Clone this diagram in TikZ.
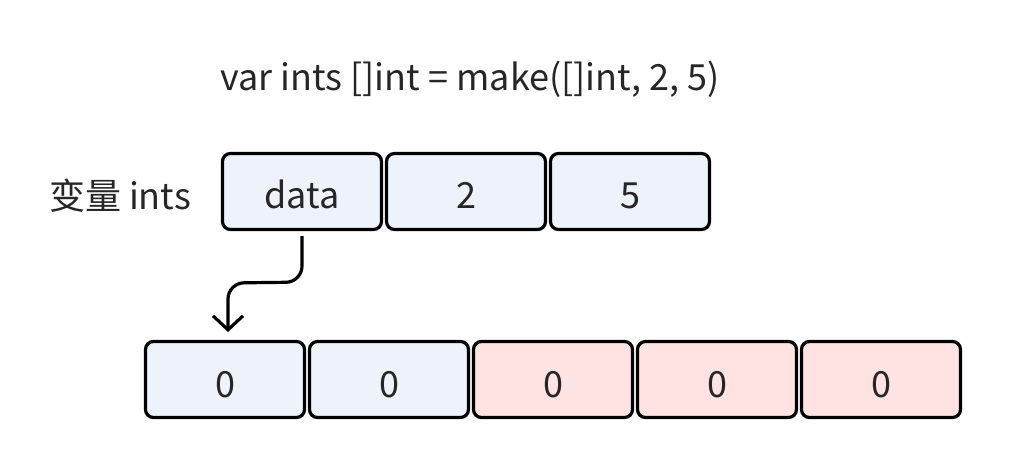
\documentclass[tikz,border=0pt]{standalone}
\usepackage{fontspec}
\setmainfont{Noto Sans CJK SC}
\usetikzlibrary{arrows.meta}
\definecolor{cellblue}{HTML}{EEF2FB}
\definecolor{cellred}{HTML}{FFE2E2}
\definecolor{txt}{HTML}{262626}
\newcommand{\celltext}[1]{\raisebox{-17.5pt}[0pt][0pt]{#1}}
\begin{document}
\begin{tikzpicture}[x=1pt,y=-1pt,
  cell/.style={draw=black,line width=3.2pt,rounded corners=8pt,minimum width=159pt,minimum height=76pt,inner sep=0pt,text=txt,font=\fontsize{36}{40}\selectfont},
  bluecell/.style={cell,fill=cellblue},
  redcell/.style={cell,fill=cellred},
  lbl/.style={text=txt,font=\fontsize{36}{40}\selectfont,inner sep=0pt}]
\useasboundingbox (0,0) rectangle (1012,470);
\node[lbl] (code) at (470,79) {var ints []int = make([]int, 2, 5)};
\node[lbl] (var) at (120,196) {变量 ints};
\node[bluecell] (d) at (302,191.5) {\celltext{data}};
\node[bluecell] (len) at (466,191.5) {\celltext{2}};
\node[bluecell] (cap) at (630,191.5) {\celltext{5}};
\node[bluecell] (a0) at (225,379.5) {\celltext{0}};
\node[bluecell] (a1) at (389,379.5) {\celltext{0}};
\node[redcell] (a2) at (553,379.5) {\celltext{0}};
\node[redcell] (a3) at (717,379.5) {\celltext{0}};
\node[redcell] (a4) at (881,379.5) {\celltext{0}};
\draw[line width=3.2pt,rounded corners=16pt,-{Straight Barb[length=14pt,width=30pt,line width=3.2pt]}]
  (d.south) ++(0,5) -- ++(0,46) -- (228,283) -- (228,332);
\end{tikzpicture}
\end{document}
